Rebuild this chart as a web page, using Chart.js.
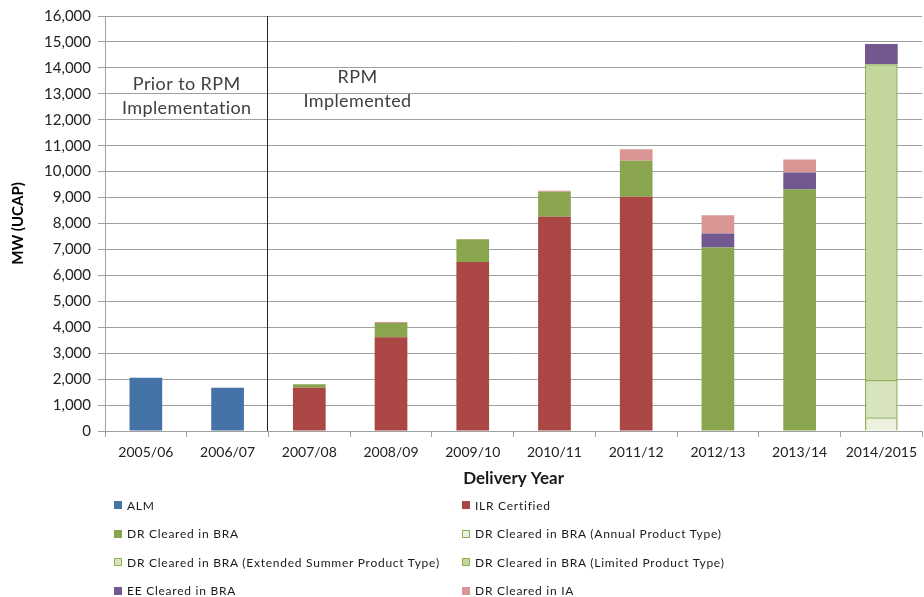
<!DOCTYPE html>
<html>
<head>
<meta charset="utf-8">
<script src="https://cdn.jsdelivr.net/npm/chart.js@4"></script>
<style>
  body { margin: 0; background: #fff; }
  #wrap { position: relative; width: 924px; height: 597px; }
  #legend { position: absolute; left: 114px; top: 496px; width: 800px;
            display: grid; grid-template-columns: 348px 400px; grid-auto-rows: 28.6px;
            font-family: Lato, "Liberation Sans", sans-serif; font-size: 12px; letter-spacing: 0.75px; color: #1a1a1a; }
  #legend div { display: flex; align-items: center; height: 18px; }
  #legend span.box { display: inline-block; width: 8px; height: 8px; margin-right: 5px; box-sizing: border-box; }
</style>
</head>
<body>
<div id="wrap">
  <canvas id="grafico" width="924" height="597"></canvas>
  <div id="legend"></div>
</div>
<script>
// categorias e séries (MW UCAP)
const years = ["2005/06", "2006/07", "2007/08", "2008/09", "2009/10", "2010/11", "2011/12", "2012/13", "2013/14", "2014/2015"];
const alm = [2055, 1670, null, null, null, null, null, null, null, null];
const ilr = [null, null, 1670, 3610, 6515, 8260, 9030, null, null, null];
const drBra = [null, null, 130, 550, 875, 960, 1390, 7070, 9320, null];
const drAnnual = [null, null, null, null, null, null, null, null, null, 530];
const drExtended = [null, null, null, null, null, null, null, null, null, 1440];
const drLimited = [null, null, null, null, null, null, null, null, null, 12170];
const eeBra = [null, null, null, null, null, null, null, 540, 650, 780];
const drIA = [null, null, null, 40, null, 40, 440, 710, 500, null];
const yTicks = { min: 0, max: 16000, step: 1000 };

const fonte = 'Lato, "Liberation Sans", sans-serif';

// linha vertical e textos "Prior to RPM" / "RPM Implemented"
const anotacoes = {
    id: "anotacoes",
    afterDatasetsDraw(chart) {
        const { ctx, chartArea, scales } = chart;
        const x = scales.x;
        const xLinha = Math.round((x.getPixelForValue(1) + x.getPixelForValue(2)) / 2) - 0.5;
        ctx.save();
        ctx.strokeStyle = "#222";
        ctx.lineWidth = 1;
        ctx.beginPath();
        ctx.moveTo(xLinha, chartArea.top);
        ctx.lineTo(xLinha, chartArea.bottom);
        ctx.stroke();

        ctx.fillStyle = "#404040";
        ctx.font = "18px " + fonte;
        ctx.letterSpacing = "0.4px";
        ctx.textAlign = "center";
        ctx.textBaseline = "middle";
        const xPrior = (x.getPixelForValue(0) + x.getPixelForValue(1)) / 2;
        ctx.fillText("Prior to RPM", xPrior, chartArea.top + 68);
        ctx.fillText("Implementation", xPrior, chartArea.top + 92);
        const xRpm = xLinha + 90;
        ctx.fillText("RPM", xRpm, chartArea.top + 61);
        ctx.fillText("Implemented", xRpm, chartArea.top + 85);
        ctx.restore();
    }
};

const series = [
    { label: "ALM", data: alm, backgroundColor: "#4572A7", borderColor: "#4572A7", borda: 0 },
    { label: "ILR Certified", data: ilr, backgroundColor: "#AA4643", borderColor: "#AA4643", borda: 0 },
    { label: "DR Cleared in BRA", data: drBra, backgroundColor: "#89A54E", borderColor: "#89A54E", borda: 0 },
    { label: "DR Cleared in BRA (Annual Product Type)", data: drAnnual, backgroundColor: "#EBF1DE", borderColor: "#8DB255", borda: 1.5 },
    { label: "DR Cleared in BRA (Extended Summer Product Type)", data: drExtended, backgroundColor: "#D7E4BD", borderColor: "#8DB255", borda: 1.5 },
    { label: "DR Cleared in BRA (Limited Product Type)", data: drLimited, backgroundColor: "#C3D69B", borderColor: "#8DB255", borda: 1.5 },
    { label: "EE Cleared in BRA", data: eeBra, backgroundColor: "#71588F", borderColor: "#71588F", borda: 0 },
    { label: "DR Cleared in IA", data: drIA, backgroundColor: "#D99694", borderColor: "#D99694", borda: 0 }
];

const ctx = document.getElementById("grafico").getContext("2d");
const chart = new Chart(ctx, {
    type: "bar",
    data: {
        labels: years,
        datasets: series.map(s => ({
            label: s.label,
            data: s.data,
            backgroundColor: s.backgroundColor,
            borderColor: s.borderColor,
            borderWidth: c => (c.raw == null ? 0 : s.borda),
            barPercentage: 0.8,
            categoryPercentage: 0.5
        }))
    },
    plugins: [anotacoes],
    options: {
        responsive: false,
        animation: false,
        layout: { padding: { top: 16, right: 0, bottom: 106, left: 0 } },
        plugins: { legend: { display: false }, tooltip: { enabled: false } },
        scales: {
            x: {
                stacked: true,
                afterFit: s => { s.height = 60; },
                grid: { offset: true, drawOnChartArea: false, drawTicks: true, tickLength: 6, color: "#A0A0A0" },
                border: { color: "#A0A0A0" },
                ticks: { color: "#222", font: { family: fonte, size: 14 }, padding: 7, maxRotation: 0, autoSkip: false },
                title: { display: true, text: "Delivery Year", color: "#1a1a1a", font: { family: fonte, size: 17, weight: "bold" }, padding: { bottom: 2 } }
            },
            y: {
                stacked: true,
                min: yTicks.min,
                max: yTicks.max,
                afterFit: s => { s.width = 105; },
                grid: { color: "#A0A0A0", tickLength: 7 },
                border: { color: "#A0A0A0" },
                ticks: {
                    stepSize: yTicks.step,
                    color: "#222",
                    padding: 7,
                    font: { family: fonte, size: 15 },
                    callback: v => v.toLocaleString("en-US")
                },
                title: { display: true, text: "MW (UCAP)", color: "#000", font: { family: fonte, size: 15, weight: "bold" }, padding: { top: 9 } }
            }
        }
    }
});

// legenda em duas colunas
const legenda = document.getElementById("legend");
series.forEach(s => {
    const item = document.createElement("div");
    const box = document.createElement("span");
    box.className = "box";
    box.style.background = s.backgroundColor;
    if (s.borda) box.style.border = "1px solid " + s.borderColor;
    item.appendChild(box);
    item.appendChild(document.createTextNode(s.label));
    legenda.appendChild(item);
});
</script>
</body>
</html>
